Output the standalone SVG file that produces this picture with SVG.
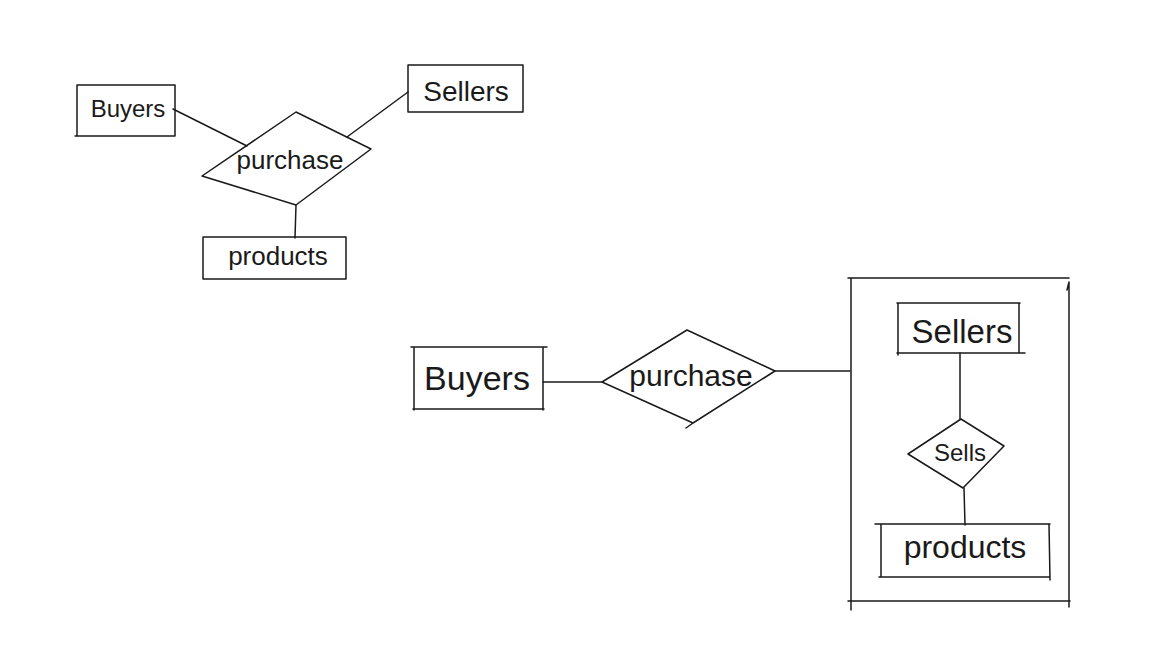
<svg xmlns="http://www.w3.org/2000/svg" width="1160" height="657" viewBox="0 0 1160 657">
<style>
.s{fill:none;stroke:#1a1a1a;stroke-width:1.5;stroke-linecap:round;stroke-linejoin:round}
.t{font-family:"Liberation Sans",Arial,sans-serif;fill:#1a1a1a;text-anchor:middle;dominant-baseline:central}
</style>
<rect width="1160" height="657" fill="#ffffff"/>
<g id="connectors" class="s">
<path d="M173 109 L247 146"/>
<path d="M408 92 L347 137"/>
<path d="M296 205 L295 238"/>
<path d="M543 382 L602 382"/>
<path d="M775 371 L850 371"/>
<path d="M960 353 L960 419"/>
<path d="M964 488 L965 525"/>
</g>
<g id="buyers1">
<path class="s" d="M77 85 L175 85 L175 136 L75 136 M77 85 L77 136"/>
<text class="t" x="128" y="108" font-size="24">Buyers</text>
</g>
<g id="sellers1">
<path class="s" d="M408 65 L523 65 L523 112 L408 112 Z"/>
<text class="t" x="466" y="91" font-size="28">Sellers</text>
</g>
<g id="purchase1">
<path class="s" d="M296 112 L371 149 L296 205 L202 176 Z"/>
<text class="t" x="290" y="160" font-size="26">purchase</text>
</g>
<g id="products1">
<path class="s" d="M203 237 L346 237 L346 279 L203 279 Z"/>
<text class="t" x="278" y="256" font-size="26">products</text>
</g>
<g id="buyers2">
<path class="s" d="M411 347 L547 347 M414 347 L414 410 M543 347 L543 410 M413 409 L544 409"/>
<text class="t" x="477" y="378" font-size="34">Buyers</text>
</g>
<g id="purchase2">
<path class="s" d="M687 330 L775 371 L693 423 L602 382 Z M693 423 L686 428"/>
<text class="t" x="691" y="375" font-size="30">purchase</text>
</g>
<g id="aggregate">
<path class="s" d="M848 278 L1069 278 M851 278 L851 610 M1069 282 L1069 607 M848 601 L1070 601 M1069 282 L1067 290"/>
</g>
<g id="sellers2">
<path class="s" d="M897 303 L1020 303 M898 303 L898 355 M1019 303 L1019 353 M897 353 L1025 353"/>
<text class="t" x="962" y="331" font-size="33">Sellers</text>
</g>
<g id="sells">
<path class="s" d="M961 419 L1004 446 L963 488 L908 454 Z"/>
<text class="t" x="960" y="452" font-size="24">Sells</text>
</g>
<g id="products2">
<path class="s" d="M875 524 L1050 524 M881 524 L881 577 M1049 524 L1050 580 M879 577 L1050 577"/>
<text class="t" x="965" y="547" font-size="32">products</text>
</g>
</svg>
